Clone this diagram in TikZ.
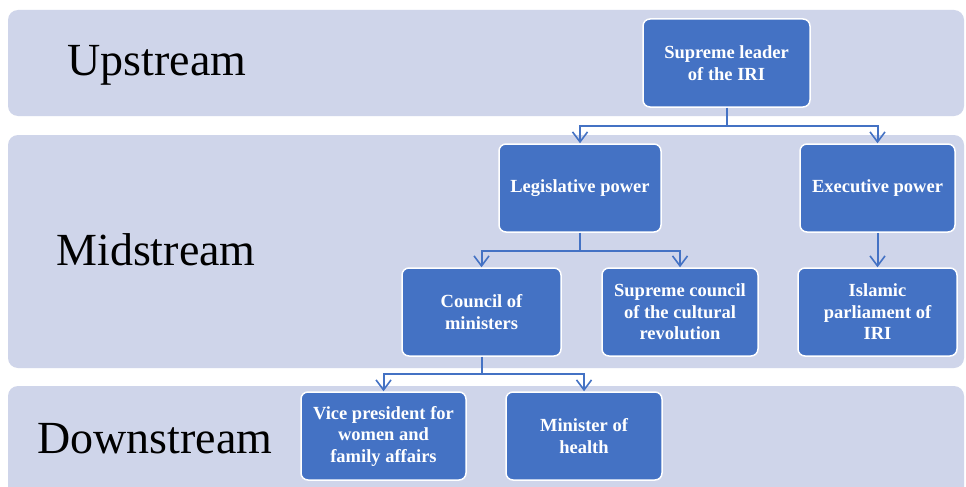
\documentclass[tikz,border=0pt]{standalone}
\usepackage{fontspec}
\setmainfont{Liberation Serif}
\usetikzlibrary{arrows.meta}
\definecolor{bandcol}{HTML}{CFD5EA}
\definecolor{boxblue}{HTML}{4472C4}
\begin{document}
\begin{tikzpicture}[x=1pt,y=-1pt,
  band/.style={fill=bandcol, rounded corners=10pt},
  box/.style={draw=white, line width=1.5pt, fill=boxblue, rounded corners=7pt, text=white,
    font=\bfseries\fontsize{18.5}{21.5}\selectfont, align=center, inner sep=0pt},
  lab/.style={font=\fontsize{46}{50}\selectfont, inner sep=0pt},
  conn/.style={draw=boxblue, line width=2pt},
  arr/.style={conn, -{Straight Barb[length=10pt,width=15pt,line width=1.6pt]}}]
\useasboundingbox (0,0) rectangle (966,487);
\fill[white] (0,0) rectangle (966,487);
\path[band] (8,10) rectangle (964,116);
\path[band] (8,135) rectangle (964,368);
\path[band] (8,386) rectangle (964,500);

\node[lab] (up) at (157,65) {Upstream};
\node[lab] (mid) at (156,250) {Midstream};
\node[lab] (down) at (155,439) {Downstream};

\node[box, minimum width=167pt, minimum height=88pt] (sl) at (726.5,63) {Supreme leader\\of the IRI};
\node[box, minimum width=162pt, minimum height=88pt] (leg) at (580,188) {Legislative power};
\node[box, minimum width=155pt, minimum height=88pt] (exe) at (877.5,188) {Executive power};
\node[box, minimum width=159pt, minimum height=88pt] (com) at (481.5,312) {Council of\\ministers};
\node[box, minimum width=156pt, minimum height=88pt] (scc) at (680,312) {Supreme council\\of the cultural\\revolution};
\node[box, minimum width=159pt, minimum height=88pt] (ipa) at (877.5,312) {Islamic\\parliament of\\IRI};
\node[box, minimum width=165pt, minimum height=88pt] (vp) at (383.5,436) {Vice president for\\women and\\family affairs};
\node[box, minimum width=156pt, minimum height=88pt] (moh) at (584,436) {Minister of\\health};

\draw[arr] (sl.south) -- ++(0,18) -| (leg.north);
\draw[arr] (sl.south) -- ++(0,18) -| (exe.north);
\draw[arr] (leg.south) -- ++(0,18) -| (com.north);
\draw[arr] (leg.south) -- ++(0,18) -| (scc.north);
\draw[arr] (exe.south) -- (ipa.north);
\draw[arr] (com.south) -- ++(0,17) -| (vp.north);
\draw[arr] (com.south) -- ++(0,17) -| (moh.north);
\end{tikzpicture}
\end{document}
